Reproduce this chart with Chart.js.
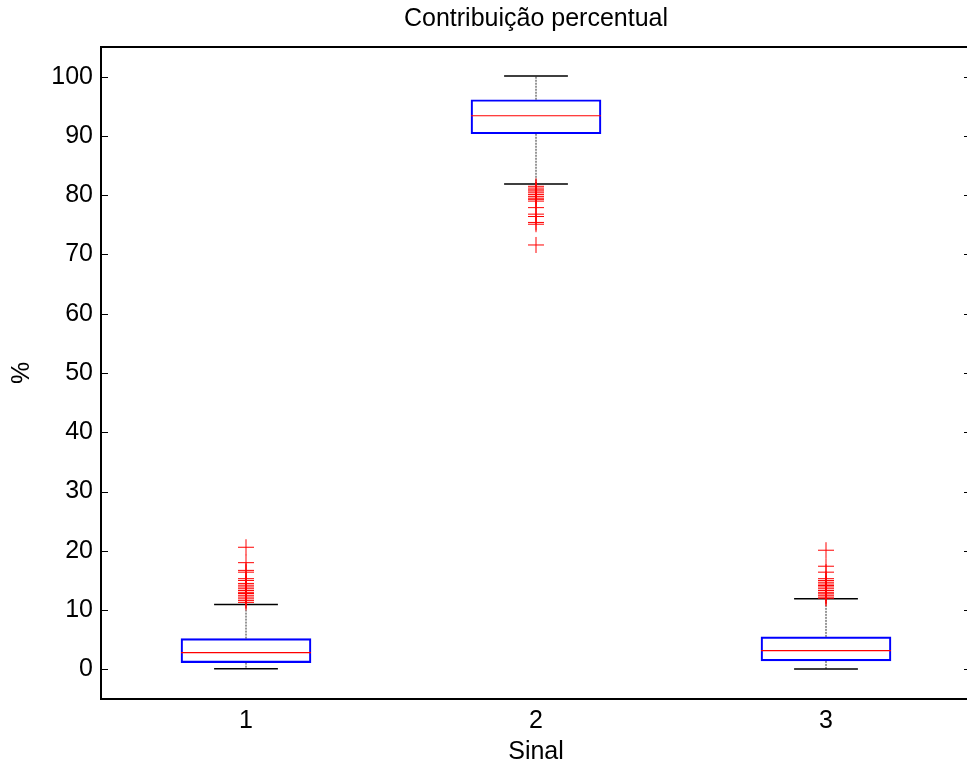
<!DOCTYPE html>
<html>
<head>
<meta charset="utf-8">
<script src="https://cdn.jsdelivr.net/npm/chart.js@4"></script>
<style>
  html, body { margin: 0; padding: 0; background: #fff; overflow: hidden; }
  #wrap { width: 980px; height: 767px; }
</style>
</head>
<body>
<div id="wrap"><canvas id="grafico"></canvas></div>
<script>
// === Dados ===
const sinais = [1, 2, 3];
const quartil1 = [1.13, 90.36, 1.42];
const mediana = [2.82, 93.4, 3.16];
const quartil3 = [5.19, 96.1, 5.48];
const bigodeInf = [0.1, 81.9, 0.05];
const bigodeSup = [10.93, 100.1, 11.9];

// valores atipicos de cada sinal
const atipicos1 = [20.6, 18.0, 16.7, 16.4, 15.3, 15.0, 14.5, 14.2, 13.9, 13.6, 13.3, 13.0, 12.8, 12.5, 12.2, 11.9, 11.6, 11.3];
const atipicos2 = [81.5, 81.2, 80.9, 80.7, 80.4, 80.1, 79.8, 79.5, 79.3, 79.0, 77.9, 76.8, 76.4, 75.4, 75.1, 71.6];
const atipicos3 = [20.1, 17.4, 16.4, 15.3, 15.0, 14.7, 14.4, 14.15, 13.9, 13.6, 13.3, 13.0, 12.75, 12.5, 12.2, 12.0];

const yTicks = [0, 10, 20, 30, 40, 50, 60, 70, 80, 90, 100];

// meia largura da caixa e do traço final (em unidades do eixo x)
const MEIA_CAIXA = 0.224;
const MEIO_TRACO = 0.11;

Chart.defaults.font.family = "'Liberation Sans', Arial, sans-serif";
Chart.defaults.font.size = 25;
Chart.defaults.color = "#000";

// junta segmentos numa lista só, com null entre eles para cortar a linha
function juntar(segs) {
  const pts = [];
  segs.forEach(([a, b]) => {
    pts.push(a, b, { x: b.x, y: null });
  });
  return pts;
}

const bigodes = juntar(sinais.flatMap((s, i) => [
  [{ x: s, y: quartil3[i] }, { x: s, y: bigodeSup[i] }],
  [{ x: s, y: quartil1[i] }, { x: s, y: bigodeInf[i] }]
]));

const tracos = juntar(sinais.flatMap((s, i) => [
  [{ x: s - MEIO_TRACO, y: bigodeSup[i] }, { x: s + MEIO_TRACO, y: bigodeSup[i] }],
  [{ x: s - MEIO_TRACO, y: bigodeInf[i] }, { x: s + MEIO_TRACO, y: bigodeInf[i] }]
]));

const medianas = juntar(sinais.map((s, i) => [
  { x: s - MEIA_CAIXA, y: mediana[i] }, { x: s + MEIA_CAIXA, y: mediana[i] }
]));

const pontosAtipicos = [atipicos1, atipicos2, atipicos3]
  .flatMap((lista, i) => lista.map(v => ({ x: sinais[i], y: v })));

// ticks para dentro, como no matlab
const ticksInternos = {
  id: "ticksInternos",
  afterDraw(chart) {
    const { ctx, chartArea, scales } = chart;
    ctx.save();
    ctx.strokeStyle = "#000";
    ctx.lineWidth = 1;
    scales.y.ticks.forEach(t => {
      const y = Math.round(scales.y.getPixelForValue(t.value)) + 0.5;
      ctx.beginPath();
      ctx.moveTo(chartArea.left, y);
      ctx.lineTo(chartArea.left + 7, y);
      ctx.moveTo(chartArea.right - 7, y);
      ctx.lineTo(chartArea.right, y);
      ctx.stroke();
    });
    ctx.restore();
  }
};

const ctx = document.getElementById("grafico").getContext("2d");
new Chart(ctx, {
  type: "bar",
  data: {
    datasets: [
      {
        type: "scatter",
        data: pontosAtipicos,
        pointStyle: "cross",
        pointRadius: 8,
        borderColor: "#ff0000",
        backgroundColor: "#ff0000",
        borderWidth: 1,
        order: 0
      },
      {
        type: "line",
        data: medianas,
        borderColor: "#ff0000",
        borderWidth: 1.2,
        pointRadius: 0,
        spanGaps: false,
        order: 1
      },
      {
        type: "line",
        data: tracos,
        borderColor: "#000",
        borderWidth: 1.5,
        pointRadius: 0,
        spanGaps: false,
        order: 2
      },
      {
        type: "line",
        data: bigodes,
        borderColor: "#333",
        borderWidth: 1,
        borderDash: [2, 1],
        pointRadius: 0,
        spanGaps: false,
        order: 3
      },
      {
        type: "bar",
        data: sinais.map((s, i) => ({ x: s, y: [quartil1[i], quartil3[i]] })),
        barThickness: 130,
        borderSkipped: false,
        borderColor: "#0000ff",
        borderWidth: 1.5,
        backgroundColor: "rgba(255,255,255,0)",
        order: 4
      }
    ]
  },
  options: {
    responsive: true,
    maintainAspectRatio: false,
    animation: false,
    events: [],
    layout: { padding: 0 },
    plugins: {
      legend: { display: false },
      tooltip: { enabled: false }
    },
    scales: {
      x: {
        type: "linear",
        position: "bottom",
        min: 0.5,
        max: 3.5,
        offset: false,
        afterBuildTicks: axis => { axis.ticks = sinais.map(v => ({ value: v })); },
        afterFit: axis => { axis.height = 68; },
        ticks: { padding: 7, autoSkip: false, maxRotation: 0 },
        grid: { drawOnChartArea: false, drawTicks: false },
        border: { display: true, color: "#000", width: 2 },
        title: { display: true, text: "Sinal", padding: { top: 0, bottom: 0 } }
      },
      x2: {
        type: "linear",
        position: "top",
        min: 0.5,
        max: 3.5,
        afterFit: axis => { axis.height = 47; },
        ticks: { display: false },
        grid: { drawOnChartArea: false, drawTicks: false },
        border: { display: true, color: "#000", width: 2 },
        title: { display: true, text: "Contribuição percentual", padding: { top: 4, bottom: 0 } }
      },
      y: {
        type: "linear",
        min: -5,
        max: 105,
        afterBuildTicks: axis => { axis.ticks = yTicks.map(v => ({ value: v })); },
        afterFit: axis => { axis.width = 101; },
        ticks: { padding: 8 },
        grid: { drawOnChartArea: false, drawTicks: false },
        border: { display: true, color: "#000", width: 2 },
        title: { display: true, text: "%", padding: { top: 7, bottom: 0 } }
      }
    }
  },
  plugins: [ticksInternos]
});
</script>
</body>
</html>
